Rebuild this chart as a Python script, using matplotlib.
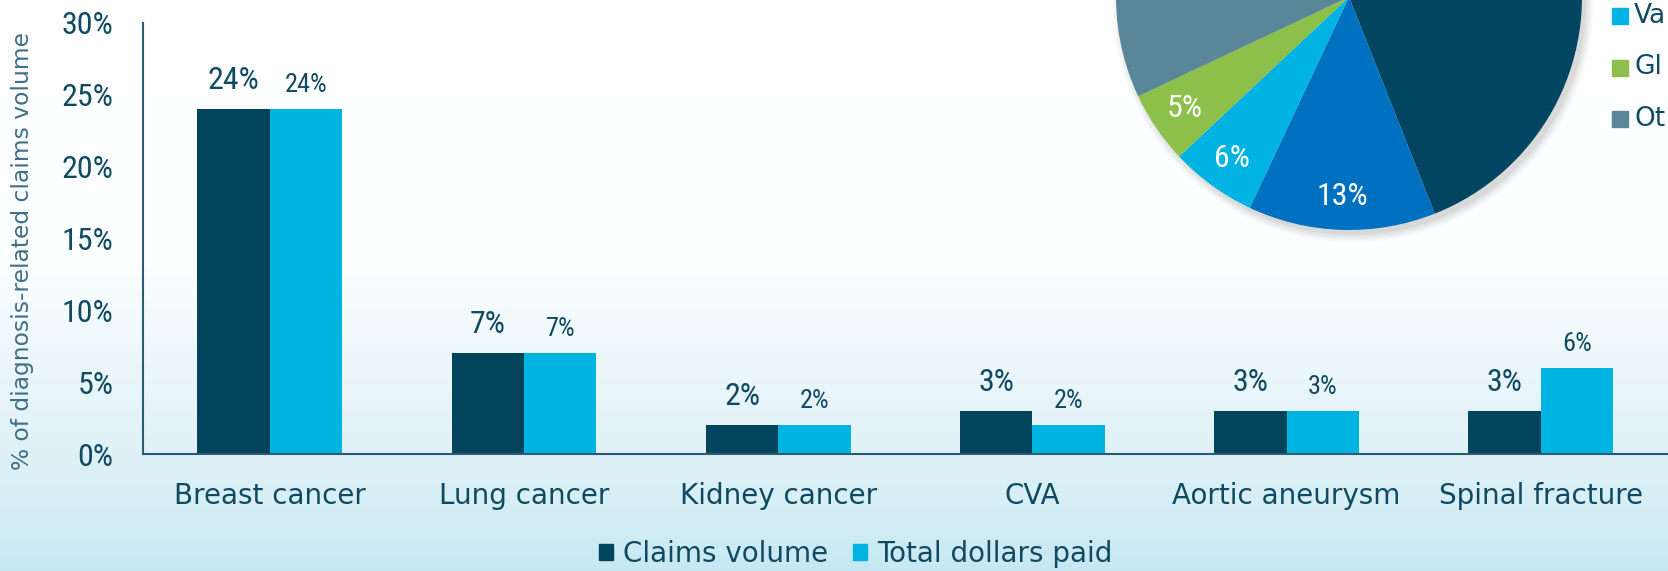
import numpy as np
from matplotlib import pyplot as plt
from matplotlib.patches import Patch, Rectangle, Circle

# bar chart data
categories = ['Breast cancer', 'Lung cancer', 'Kidney cancer', 'CVA', 'Aortic aneurysm', 'Spinal fracture']
claims_volume = [24, 7, 2, 3, 3, 3]
dollars_paid = [24, 7, 2, 2, 3, 6]
bar_series = ['Claims volume', 'Total dollars paid']

# pie inset data (top of it is cut off in the reference)
pie_values = [44, 13, 6, 5, 32]
pie_legend_visible = ['Va', 'Gl', 'Ot']

DARK = '#03445d'
LIGHT = '#00b4e2'
TEXT = '#104a62'
pie_colors = ['#024560', '#0070c0', '#00b3e2', '#8cc04b', '#5a8699']

plt.rcParams['font.family'] = ['DejaVu Sans']
NUM_FONT = ['Roboto Condensed', 'Noto Sans Condensed', 'Roboto', 'DejaVu Sans']

W, H = 1668, 571
fig = plt.figure(figsize=(W / 100, H / 100), dpi=100)

# background gradient, white at top to light blue at bottom
bg = fig.add_axes([0, 0, 1, 1], zorder=-10)
stops_y = [0, 260, 350, 454, 520, 571]
stops_c = ['#ffffff', '#fcfeff', '#eef8fb', '#dff1f7', '#d3edf5', '#c6e8f2']
rgb = np.array([[int(c[i:i + 2], 16) / 255 for i in (1, 3, 5)] for c in stops_c])
ys = np.arange(H)
grad = np.stack([np.interp(ys, stops_y, rgb[:, k]) for k in range(3)], axis=1)
bg.imshow(grad[:, None, :], aspect='auto', extent=[0, 1, 0, 1])
bg.axis('off')

# main bar axes
left, right, top, bottom = 142.7, 1668, 22.7, 454
ax = fig.add_axes([left / W, 1 - bottom / H, (right - left) / W, (bottom - top) / H])
ax.set_facecolor('none')

x = np.arange(len(categories))
bw = 0.285
b1 = ax.bar(x - bw / 2, claims_volume, bw, color=DARK, label=bar_series[0])
b2 = ax.bar(x + bw / 2, dollars_paid, bw, color=LIGHT, label=bar_series[1])

for rect, v in zip(b1, claims_volume):
    ax.annotate(f'{v}%', (rect.get_x() + rect.get_width() / 2, v), xytext=(0, 14.4),
                textcoords='offset points', ha='center', va='baseline', fontsize=23,
                color=TEXT, family=NUM_FONT)
for rect, v in zip(b2, dollars_paid):
    ax.annotate(f'{v}%', (rect.get_x() + rect.get_width() / 2, v), xytext=(0, 12.2),
                textcoords='offset points', ha='center', va='baseline', fontsize=19,
                color=TEXT, family=NUM_FONT)

ax.set_xlim(-0.5, 5.5)
ax.set_ylim(0, 30)
ax.set_yticks(range(0, 31, 5))
ax.set_yticklabels([f'{t}%' for t in range(0, 31, 5)], family=NUM_FONT)
ax.set_xticks(x)
ax.set_xticklabels(categories)
ax.tick_params(axis='y', length=0, pad=21, labelsize=23, labelcolor=TEXT)
ax.tick_params(axis='x', length=0, pad=20, labelsize=20, labelcolor=TEXT)
for s in ['top', 'right']:
    ax.spines[s].set_visible(False)
for s in ['left', 'bottom']:
    ax.spines[s].set_color('#2b5c72')
    ax.spines[s].set_linewidth(1.5)

fig.text(23 / W, 1 - 251 / H, '% of diagnosis-related claims volume', rotation=90,
         ha='center', va='center', fontsize=16.8, color='#3f7088')

fig.legend(handles=[Patch(color=DARK), Patch(color=LIGHT)], labels=bar_series,
           loc='center', bbox_to_anchor=(856 / W, 1 - 554 / H), ncol=2, frameon=False,
           fontsize=20, labelcolor=TEXT, handlelength=0.5, handleheight=0.5,
           handletextpad=0.36, columnspacing=0.9)

# pie inset, centre above the top edge
R = 233
cx, cy = 1349, -3
pax = fig.add_axes([(cx - R) / W, 1 - (cy + R) / H, 2 * R / W, 2 * R / H])
pax.set_facecolor('none')
for k, a in enumerate([0.04, 0.05, 0.06, 0.08]):
    pax.add_patch(Circle((0.018, -0.022), 1.0 + 0.01 * (3 - k), color='#555555', alpha=a,
                         lw=0, clip_on=False))
wedges, texts, autotexts = pax.pie(pie_values, colors=pie_colors, startangle=90, counterclock=False,
                                   autopct='%d%%', pctdistance=0.855, radius=1,
                                   wedgeprops=dict(linewidth=0),
                                   textprops=dict(color='white', fontsize=23, family=NUM_FONT))
pax.set_xlim(-1, 1)
pax.set_ylim(-1, 1)
pax.set_aspect('auto')
for t in autotexts:
    if t.get_position()[1] > -0.02:
        t.set_visible(False)

# visible part of the pie legend
for i, (lab, col) in enumerate(zip(pie_legend_visible, pie_colors[2:])):
    yc = 16 + 51.5 * i
    fig.add_artist(Rectangle((1612 / W, 1 - (yc + 8) / H), 16 / W, 16 / H, color=col,
                             transform=fig.transFigure))
    fig.text(1634 / W, 1 - yc / H, lab, ha='left', va='center', fontsize=19, color=TEXT)

fig.savefig('out.png', dpi=100)
